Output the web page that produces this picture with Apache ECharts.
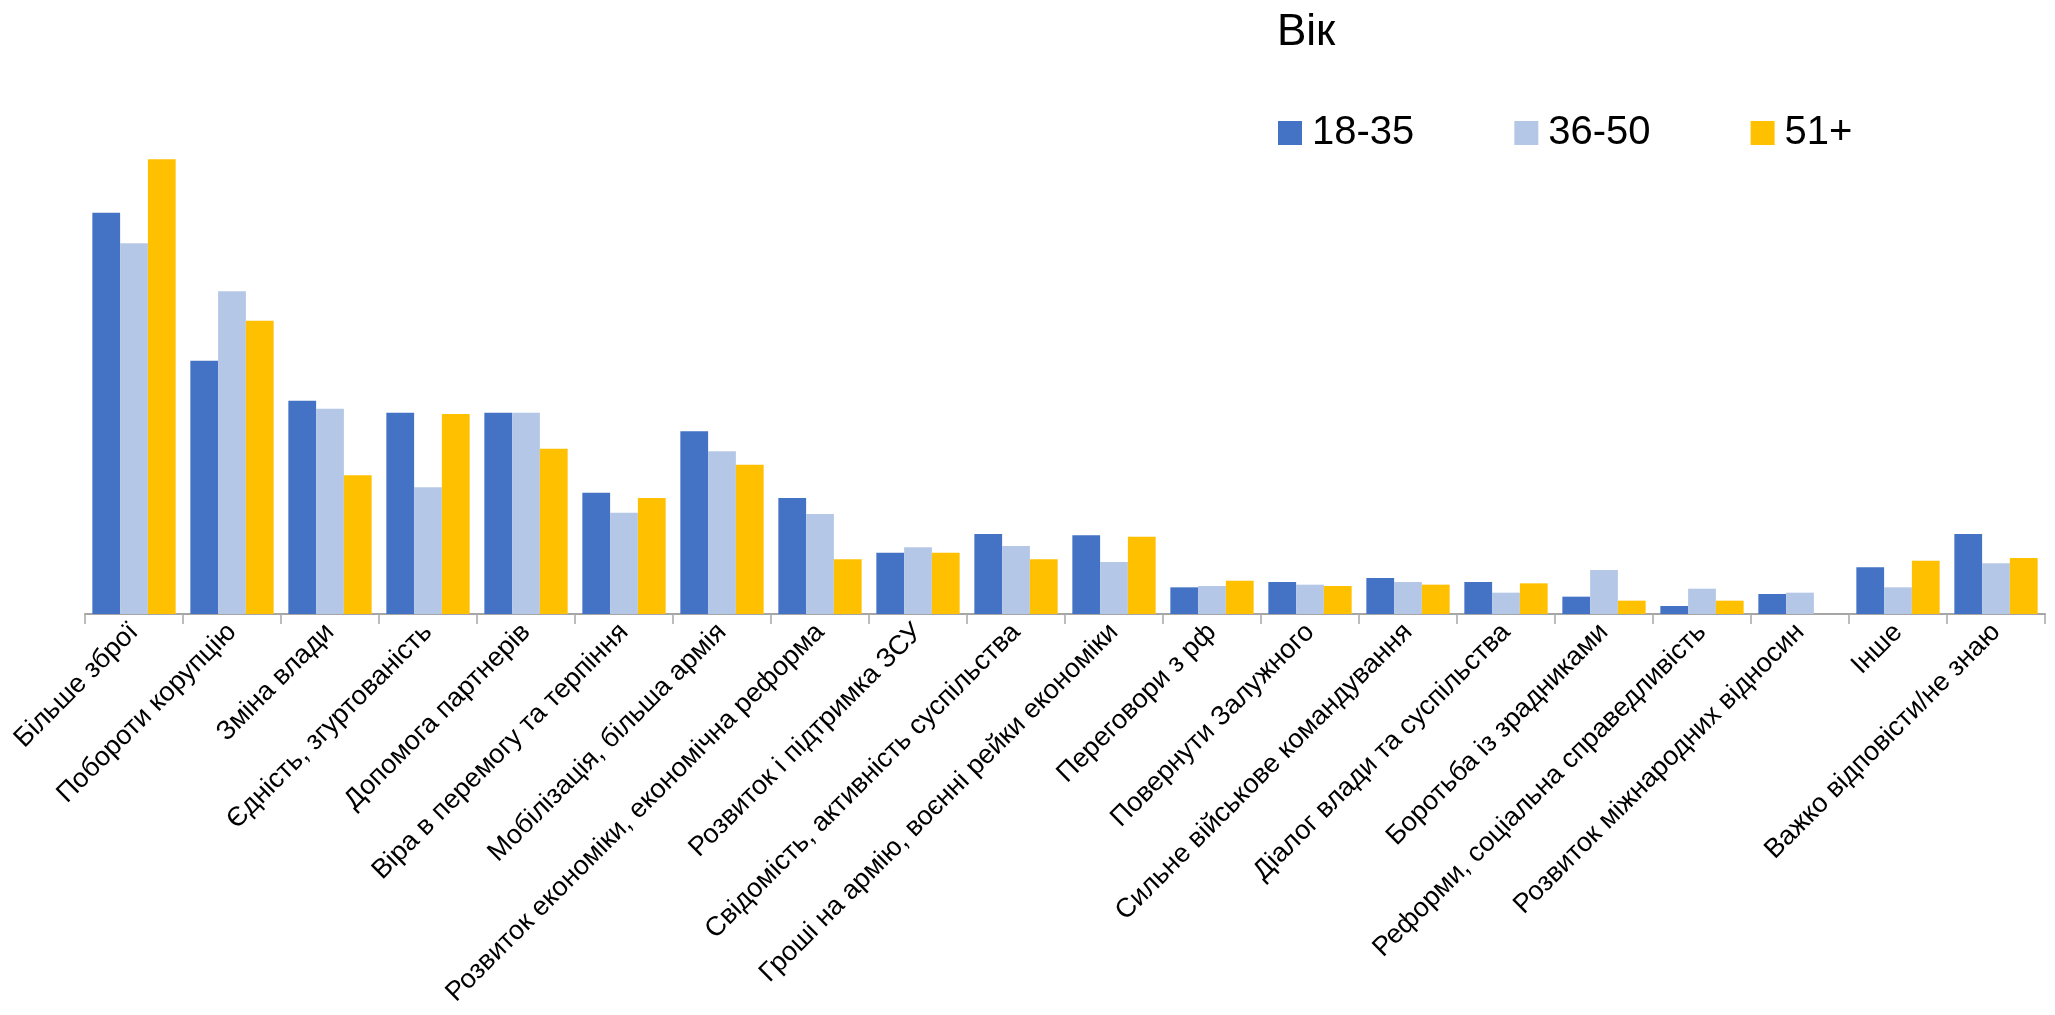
<!DOCTYPE html>
<html>
<head>
<meta charset="utf-8">
<script src="https://cdn.jsdelivr.net/npm/echarts@6/dist/echarts.min.js"></script>
<style>
html,body{margin:0;padding:0;background:#fff;}
#chart{width:2055px;height:1015px;}
</style>
</head>
<body>
<div id="chart"></div>
<script>
const categories = [
  "Більше зброї", "Побороти корупцію", "Зміна влади", "Єдність, згуртованість",
  "Допомога партнерів", "Віра в перемогу та терпіння", "Мобілізація, більша армія",
  "Розвиток економіки, економічна реформа", "Розвиток і підтримка ЗСУ",
  "Свідомість, активність суспільства", "Гроші на армію, воєнні рейки економіки",
  "Переговори з рф", "Повернути Залужного", "Сильне військове командування",
  "Діалог влади та суспільства", "Боротьба із зрадниками",
  "Реформи, соціальна справедливість", "Розвиток міжнародних відносин",
  "Інше", "Важко відповісти/не знаю"
];
const seriesNames = ["18-35", "36-50", "51+"];
const age18_35 = [30.1, 19.0, 16.0, 15.1, 15.1, 9.1, 13.7, 8.7, 4.6, 6.0, 5.9, 2.0, 2.4, 2.7, 2.4, 1.3, 0.6, 1.5, 3.5, 6.0];
const age36_50 = [27.8, 24.2, 15.4, 9.5, 15.1, 7.6, 12.2, 7.5, 5.0, 5.1, 3.9, 2.1, 2.2, 2.4, 1.6, 3.3, 1.9, 1.6, 2.0, 3.8];
const age51 = [34.1, 22.0, 10.4, 15.0, 12.4, 8.7, 11.2, 4.1, 4.6, 4.1, 5.8, 2.5, 2.1, 2.2, 2.3, 1.0, 1.0, 0, 4.0, 4.2];
const colors = ["#4472C4", "#B4C7E7", "#FFC000"];

const chart = echarts.init(document.getElementById('chart'));
const font = "'Liberation Sans', Arial, sans-serif";
chart.setOption({
  animation: false,
  color: colors,
  title: {
    text: "Вік",
    left: 1272,
    top: 6,
    textStyle: { fontFamily: font, fontSize: 44, fontWeight: 'normal', color: '#000' }
  },
  legend: {
    data: seriesNames,
    left: 1273,
    top: 108,
    itemWidth: 24,
    itemHeight: 24,
    itemGap: 100,
    icon: 'rect',
    textStyle: { fontFamily: font, fontSize: 40, color: '#000', padding: [0, 0, 0, 5] }
  },
  grid: { left: 85, right: 10, top: 134, bottom: 401, containLabel: false, outerBoundsMode: 'none' },
  xAxis: {
    type: 'category',
    data: categories,
    axisLine: { lineStyle: { color: '#A6A6A6', width: 2 } },
    axisTick: { show: true, length: 10, lineStyle: { color: '#A6A6A6', width: 1.5 } },
    axisLabel: {
      interval: 0,
      rotate: 45,
      margin: 14,
      fontFamily: font,
      fontSize: 27,
      color: '#000'
    }
  },
  yAxis: {
    type: 'value',
    min: 0,
    max: 36,
    show: false,
    splitLine: { show: false }
  },
  series: [
    { name: seriesNames[0], type: 'bar', data: age18_35, barGap: '0%', barCategoryGap: '15%' },
    { name: seriesNames[1], type: 'bar', data: age36_50, barGap: '0%', barCategoryGap: '15%' },
    { name: seriesNames[2], type: 'bar', data: age51, barGap: '0%', barCategoryGap: '15%' }
  ]
});
</script>
</body>
</html>
